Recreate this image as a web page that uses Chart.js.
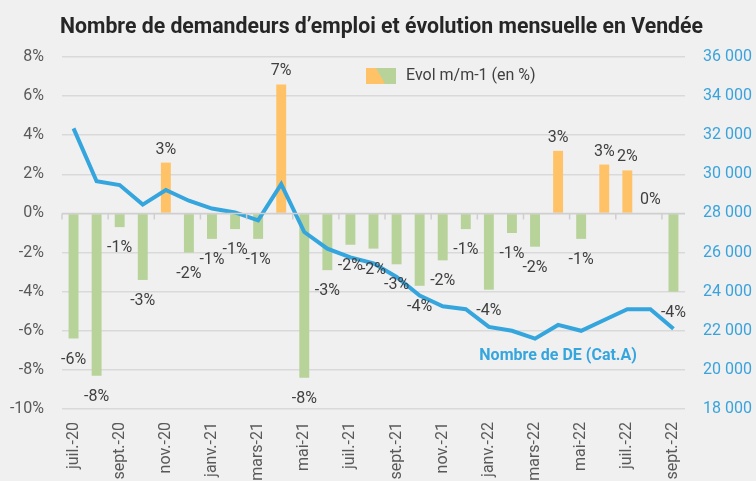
<!DOCTYPE html>
<html lang="fr">
<head>
<meta charset="utf-8">
<script src="https://cdn.jsdelivr.net/npm/chart.js@4/dist/chart.umd.min.js"></script>
<style>
    html, body { margin: 0; padding: 0; background: #f0f0f0; overflow: hidden; }
    #wrap { width: 756px; height: 520px; }
</style>
</head>
<body>
<div id="wrap"><canvas id="chart" width="756" height="520"></canvas></div>
<script>
    // données
    const categories = ['juil.-20', 'août-20', 'sept.-20', 'oct.-20', 'nov.-20', 'déc.-20',
        'janv.-21', 'févr.-21', 'mars-21', 'avr.-21', 'mai-21', 'juin-21', 'juil.-21', 'août-21',
        'sept.-21', 'oct.-21', 'nov.-21', 'déc.-21', 'janv.-22', 'févr.-22', 'mars-22', 'avr.-22',
        'mai-22', 'juin-22', 'juil.-22', 'août-22', 'sept.-22'];
    const evolution = [-6.4, -8.3, -0.7, -3.4, 2.6, -2.0, -1.3, -0.8, -1.3, 6.6, -8.4, -2.9, -1.6, -1.8,
        -2.6, -3.7, -2.4, -0.8, -3.9, -1.0, -1.7, 3.2, -1.3, 2.5, 2.2, 0.0, -4.0];
    const demandeurs = [32350, 29650, 29450, 28450, 29200, 28650, 28250, 28050, 27650, 29500, 27050,
        26200, 25750, 25450, 24750, 23800, 23250, 23100, 22200, 22000, 21600, 22300, 22000, 22550,
        23100, 23100, 22100];
    const leftTicks = [-10, -8, -6, -4, -2, 0, 2, 4, 6, 8];
    const rightTicks = [18000, 20000, 22000, 24000, 26000, 28000, 30000, 32000, 34000, 36000];

    const titre = 'Nombre de demandeurs d’emploi et évolution mensuelle en Vendée';
    const legendeBarres = 'Evol m/m-1 (en %)';
    const legendeLigne = 'Nombre de DE (Cat.A)';

    const ORANGE = '#ffc266';
    const VERT = '#b7d39a';
    const BLEU = '#35a5de';
    const TEXTE = '#404040';

    function milliers(v) {
        return String(v).replace(/\B(?=(\d{3})+(?!\d))/g, ' ');
    }

    // titre, légende, étiquettes et ligne de l'axe 0%
    const annotations = {
        id: 'annotations',
        afterDatasetsDraw: (chart) => {
            const ctx = chart.ctx;
            const x = chart.scales.x;
            const y = chart.scales.y;
            const y2 = chart.scales.y2;
            const area = chart.chartArea;

            // ligne 0% et graduations
            const y0 = y.getPixelForValue(0);
            const half = (x.getPixelForValue(1) - x.getPixelForValue(0)) / 2;
            ctx.save();
            ctx.strokeStyle = '#cfcfcf';
            ctx.lineWidth = 1.5;
            ctx.beginPath();
            ctx.moveTo(area.left, y0);
            ctx.lineTo(area.right, y0);
            categories.forEach((c, i) => {
                if (i % 2 === 0) {
                    const tx = x.getPixelForValue(i) - half;
                    ctx.moveTo(tx, y0);
                    ctx.lineTo(tx, y0 + 6);
                }
            });
            ctx.stroke();
            ctx.restore();

            // valeurs des barres
            const meta = chart.getDatasetMeta(1);
            ctx.save();
            ctx.font = '16px Roboto';
            ctx.fillStyle = TEXTE;
            ctx.textAlign = 'center';
            ctx.textBaseline = 'middle';
            meta.data.forEach((bar, i) => {
                const v = evolution[i];
                let r = Math.round(v);
                if (r === 0) r = 0;
                const ty = v < 0 ? bar.y + 21 : bar.y - 13;
                ctx.fillText(r + '%', bar.x, ty);
            });
            ctx.restore();
        },
        afterDraw: (chart) => {
            const ctx = chart.ctx;
            const x = chart.scales.x;
            const y2 = chart.scales.y2;

            // titre (police étroite simulée)
            ctx.save();
            ctx.font = 'bold 22px Roboto';
            ctx.fillStyle = '#262626';
            const w = ctx.measureText(titre).width;
            const k = 643 / w;
            ctx.translate(60, 33);
            ctx.scale(k, 1);
            ctx.textAlign = 'left';
            ctx.textBaseline = 'alphabetic';
            ctx.fillText(titre, 0, 0);
            ctx.restore();

            // légende des barres
            const lx = 366, ly = 68;
            ctx.save();
            ctx.fillStyle = VERT;
            ctx.fillRect(lx, ly, 30, 16);
            ctx.fillStyle = ORANGE;
            ctx.beginPath();
            ctx.moveTo(lx, ly);
            ctx.lineTo(lx + 10, ly);
            ctx.lineTo(lx + 19, ly + 16);
            ctx.lineTo(lx, ly + 16);
            ctx.closePath();
            ctx.fill();
            ctx.font = '16px Roboto';
            ctx.fillStyle = TEXTE;
            ctx.textBaseline = 'middle';
            ctx.fillText(legendeBarres, lx + 40, ly + 8);
            ctx.restore();

            // étiquette de la courbe
            ctx.save();
            ctx.font = 'bold 16px Roboto';
            ctx.fillStyle = BLEU;
            ctx.textAlign = 'center';
            ctx.textBaseline = 'middle';
            ctx.fillText(legendeLigne, x.getPixelForValue(21), y2.getPixelForValue(20700));
            ctx.restore();
        }
    };

    new Chart(document.getElementById('chart'), {
        data: {
            labels: categories,
            datasets: [{
                type: 'line',
                label: legendeLigne,
                data: demandeurs,
                yAxisID: 'y2',
                borderColor: BLEU,
                borderWidth: 4,
                pointRadius: 0,
                tension: 0,
                order: 0
            }, {
                type: 'bar',
                label: legendeBarres,
                data: evolution,
                yAxisID: 'y',
                backgroundColor: evolution.map(v => v >= 0 ? ORANGE : VERT),
                borderWidth: 0,
                categoryPercentage: 1,
                barPercentage: 0.43,
                order: 1
            }]
        },
        options: {
            responsive: false,
            animation: false,
            layout: { padding: { top: 57, left: 0, right: 0, bottom: 0 } },
            plugins: {
                legend: { display: false },
                tooltip: { enabled: false }
            },
            scales: {
                x: {
                    grid: { display: false, drawTicks: false },
                    border: { display: false },
                    afterFit: (s) => { s.height = 111; },
                    ticks: {
                        autoSkip: false,
                        minRotation: 90,
                        maxRotation: 90,
                        padding: 13,
                        color: '#595959',
                        font: { family: 'Roboto', size: 16 },
                        callback: (v, i) => i % 2 === 0 ? categories[i] : ''
                    }
                },
                y: {
                    position: 'left',
                    min: -10,
                    max: 8,
                    afterFit: (s) => { s.width = 62; },
                    afterBuildTicks: (s) => { s.ticks = leftTicks.map(v => ({ value: v })); },
                    grid: { color: '#d9d9d9', lineWidth: 1.5, drawTicks: false },
                    border: { display: false },
                    ticks: {
                        padding: 18,
                        color: '#595959',
                        font: { family: 'Roboto', size: 16 },
                        callback: (v) => v + '%'
                    }
                },
                y2: {
                    position: 'right',
                    min: 18000,
                    max: 36000,
                    afterFit: (s) => { s.width = 71; },
                    afterBuildTicks: (s) => { s.ticks = rightTicks.map(v => ({ value: v })); },
                    grid: { display: false, drawTicks: false },
                    border: { display: false },
                    ticks: {
                        padding: 18,
                        color: '#3aa3dc',
                        font: { family: 'Roboto', size: 16 },
                        callback: (v) => milliers(v)
                    }
                }
            }
        },
        plugins: [annotations]
    });
</script>
</body>
</html>
